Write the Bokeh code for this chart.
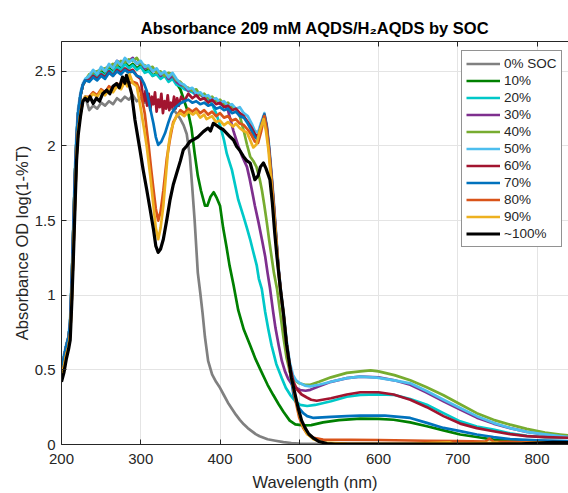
from bokeh.plotting import figure
from bokeh.models import (Legend, LegendItem, LinearAxis, FixedTicker, Range1d,
                          NumeralTickFormatter, CustomJSTickFormatter)
from bokeh.embed import file_html
from bokeh.resources import INLINE

# ---------------- data (wavelength nm, absorbance OD) ----------------
rise_upper = [(200,0.5),(203,0.58),(206,0.66),(209,0.72),(211,0.82),(213,1.1),(215,1.45),(217,1.8),(219,2.05),(221,2.22),(224,2.34),(227,2.41),(230,2.44)]
rise_lower = [(200,0.45),(203,0.52),(206,0.6),(209,0.66),(211,0.74),(213,0.98),(215,1.3),(217,1.62),(219,1.93),(221,2.1),(224,2.22),(227,2.3),(230,2.33)]
rise_black = [(200,0.42),(203,0.48),(206,0.57),(209,0.64),(211,0.7),(213,0.95),(215,1.25),(217,1.58),(219,1.9),(221,2.07),(224,2.2),(227,2.3),(230,2.32)]

soc0 = rise_lower + [(235,2.24),(240,2.27),(245,2.25),(250,2.29),(255,2.27),(260,2.3),(265,2.28),(270,2.32),(275,2.3),(280,2.33),(285,2.31),(290,2.34),(295,2.3),(300,2.32),(305,2.29),(310,2.31),(315,2.28),(320,2.3),(325,2.27),(330,2.29),(335,2.26),(340,2.25),(345,2.22),(350,2.18),(354,2.14),(358,2.08),(362,1.93),(365,1.72),(368,1.5),(372,1.15),(375,1.02),(378,0.88),(381,0.72),(385,0.56),(390,0.47),(395,0.42),(400,0.38),(405,0.33),(410,0.28),(415,0.24),(420,0.2),(425,0.165),(430,0.135),(435,0.11),(440,0.09),(445,0.07),(450,0.055),(455,0.045),(460,0.035),(470,0.025),(480,0.016),(490,0.01),(500,0.006),(550,0.004),(600,0.005),(650,0.004),(700,0.006),(750,0.005),(760,0.012),(770,0.005),(820,0.006),(830,0.014),(840,0.008)]

soc10 = rise_upper + [(235,2.46),(240,2.49),(245,2.47),(250,2.5),(255,2.48),(260,2.52),(265,2.5),(270,2.54),(275,2.52),(280,2.56),(285,2.53),(290,2.55),(295,2.52),(300,2.54),(305,2.5),(310,2.51),(315,2.47),(320,2.49),(325,2.46),(330,2.48),(335,2.44),(340,2.46),(345,2.42),(350,2.38),(355,2.3),(360,2.22),(364,2.12),(368,1.95),(372,1.8),(376,1.7),(381,1.6),(384,1.6),(388,1.66),(392,1.69),(396,1.65),(400,1.6),(404,1.45),(408,1.33),(412,1.2),(417,1.07),(423,0.9),(430,0.77),(438,0.665),(445,0.57),(452,0.49),(460,0.4),(467,0.333),(474,0.27),(480,0.22),(488,0.16),(495,0.135),(505,0.128),(515,0.13),(530,0.148),(550,0.163),(577,0.173),(600,0.172),(619,0.166),(640,0.148),(661,0.122),(682,0.095),(703,0.067),(724,0.05),(745,0.033),(787,0.016),(840,0.012)]

soc20 = rise_upper + [(235,2.45),(240,2.48),(245,2.46),(250,2.49),(255,2.47),(260,2.51),(265,2.49),(270,2.53),(275,2.51),(280,2.55),(285,2.52),(290,2.54),(295,2.51),(300,2.53),(305,2.49),(310,2.5),(315,2.47),(320,2.48),(325,2.45),(330,2.47),(335,2.43),(340,2.45),(345,2.41),(350,2.4),(355,2.38),(360,2.37),(365,2.36),(370,2.34),(375,2.35),(380,2.32),(385,2.31),(390,2.28),(395,2.22),(400,2.14),(405,2.04),(408.5,1.95),(412,1.89),(415,1.84),(419,1.74),(423,1.64),(429.5,1.53),(434,1.45),(438,1.375),(442,1.29),(446.4,1.198),(449,1.11),(452.7,1.043),(457,0.888),(461,0.77),(465,0.665),(471,0.54),(478,0.444),(483,0.38),(488.5,0.333),(495,0.29),(501,0.266),(510,0.258),(520,0.265),(540,0.29),(560,0.32),(577,0.333),(600,0.336),(619,0.333),(640,0.305),(661,0.266),(682,0.21),(703,0.155),(724,0.12),(745,0.1),(766,0.075),(787,0.058),(810,0.05),(840,0.045)]

soc30 = rise_upper + [(235,2.47),(240,2.5),(245,2.49),(250,2.52),(255,2.51),(260,2.54),(265,2.53),(270,2.57),(275,2.55),(280,2.58),(285,2.57),(290,2.59),(295,2.55),(300,2.56),(305,2.52),(310,2.53),(315,2.5),(320,2.51),(325,2.47),(330,2.49),(335,2.45),(340,2.47),(345,2.43),(350,2.41),(355,2.4),(360,2.37),(365,2.38),(370,2.34),(375,2.35),(380,2.32),(385,2.33),(390,2.3),(395,2.31),(400,2.28),(405,2.28),(410,2.24),(413,2.18),(417,2.1),(423,2.0),(428,1.93),(434,1.86),(437,1.79),(440,1.71),(444,1.6),(448.5,1.49),(453,1.37),(457,1.26),(460,1.15),(463,1.05),(467,0.89),(470,0.78),(474,0.665),(478,0.56),(482,0.49),(486,0.44),(491,0.4),(496,0.38),(501,0.365),(508,0.36),(514,0.366),(525,0.39),(540,0.42),(560,0.445),(577,0.455),(600,0.45),(620,0.43),(640,0.40),(660,0.35),(682,0.29),(703,0.235),(724,0.18),(745,0.14),(766,0.11),(787,0.085),(810,0.067),(840,0.05)]

soc40 = rise_upper + [(235,2.48),(240,2.49),(245,2.5),(250,2.51),(255,2.52),(260,2.53),(265,2.55),(270,2.54),(275,2.57),(280,2.56),(285,2.58),(290,2.57),(295,2.59),(300,2.55),(305,2.54),(310,2.52),(315,2.53),(320,2.49),(325,2.5),(330,2.47),(335,2.49),(340,2.48),(345,2.44),(350,2.43),(355,2.4),(360,2.39),(365,2.37),(370,2.38),(375,2.34),(380,2.35),(385,2.32),(390,2.33),(395,2.3),(400,2.31),(405,2.28),(410,2.29),(415,2.26),(420,2.25),(425,2.2),(430,2.1),(434,2.01),(438,1.93),(442,1.9),(446,1.86),(450,1.78),(453,1.7),(456,1.6),(459,1.49),(462,1.37),(465,1.26),(468,1.15),(472,1.04),(476,0.88),(480,0.72),(484,0.58),(488,0.49),(492,0.44),(500,0.41),(507,0.4),(514,0.40),(525,0.42),(540,0.45),(560,0.48),(577,0.49),(590,0.497),(600,0.49),(620,0.465),(640,0.43),(660,0.385),(682,0.33),(703,0.27),(724,0.21),(745,0.165),(766,0.133),(787,0.105),(810,0.08),(829,0.067),(840,0.06)]

soc50 = [(200,0.53),(203,0.6),(206,0.67),(209,0.73),(211,0.86),(213,1.15),(215,1.5),(217,1.85),(219,2.1),(221,2.25),(224,2.36),(227,2.42),(230,2.45),(235,2.47),(240,2.51),(245,2.48),(250,2.53),(255,2.5),(260,2.55),(265,2.52),(270,2.57),(275,2.54),(280,2.59),(285,2.56),(290,2.58),(295,2.55),(300,2.57),(305,2.53),(310,2.54),(315,2.5),(320,2.52),(325,2.48),(330,2.5),(335,2.46),(340,2.49),(345,2.45),(350,2.42),(355,2.41),(360,2.38),(365,2.39),(370,2.35),(375,2.36),(380,2.33),(385,2.34),(390,2.31),(395,2.32),(400,2.29),(405,2.3),(410,2.27),(415,2.28),(420,2.25),(425,2.26),(430,2.22),(435,2.2),(440,2.15),(444,2.1),(448,2.09),(452,2.16),(456,2.22),(459,2.14),(462,2.0),(465,1.82),(468,1.62),(471,1.4),(474,1.18),(477,1.02),(480,0.89),(484,0.7),(488,0.55),(492,0.466),(496,0.43),(501,0.41),(507,0.395),(514,0.389),(525,0.40),(540,0.42),(560,0.445),(577,0.455),(598,0.448),(620,0.43),(640,0.41),(660,0.36),(682,0.30),(703,0.245),(724,0.19),(745,0.145),(766,0.11),(787,0.085),(810,0.068),(829,0.056),(840,0.05)]

soc60 = rise_upper + [(235,2.44),(240,2.47),(245,2.45),(250,2.48),(255,2.46),(260,2.5),(265,2.47),(270,2.51),(275,2.49),(280,2.52),(285,2.5),(290,2.51),(295,2.47),(300,2.45),(302,2.36),(304,2.3),(306,2.37),(308,2.27),(310,2.35),(312,2.24),(314,2.33),(316,2.28),(318,2.36),(320,2.23),(322,2.31),(324,2.26),(326,2.35),(328,2.22),(330,2.3),(332,2.25),(334,2.34),(336,2.24),(338,2.29),(340,2.26),(342,2.33),(344,2.25),(346,2.32),(348,2.27),(351,2.33),(355,2.3),(360,2.35),(365,2.32),(370,2.34),(375,2.31),(380,2.32),(385,2.29),(390,2.31),(395,2.28),(400,2.29),(405,2.26),(410,2.27),(415,2.24),(420,2.25),(425,2.22),(430,2.2),(435,2.16),(440,2.12),(444,2.08),(448,2.06),(452,2.14),(456,2.21),(459,2.13),(462,1.98),(465,1.8),(468,1.6),(471,1.38),(474,1.17),(477,1.01),(480,0.88),(484,0.68),(488,0.53),(492.7,0.42),(497,0.37),(503,0.335),(509.6,0.315),(515,0.3),(522,0.293),(540,0.31),(560,0.335),(577,0.35),(600,0.35),(619,0.335),(640,0.30),(661,0.25),(682,0.19),(703,0.14),(724,0.11),(745,0.089),(766,0.07),(787,0.056),(810,0.05),(840,0.045)]

soc70 = rise_upper + [(235,2.43),(240,2.46),(245,2.44),(250,2.47),(255,2.45),(260,2.49),(265,2.47),(270,2.5),(275,2.48),(280,2.51),(285,2.49),(290,2.5),(295,2.47),(300,2.46),(304,2.42),(307.5,2.37),(312,2.25),(316,2.15),(319,2.06),(322,2.007),(326,2.03),(330.6,2.085),(335,2.16),(339,2.22),(344,2.26),(349.6,2.285),(355,2.3),(360,2.31),(365,2.29),(370,2.3),(375,2.28),(380,2.29),(385,2.27),(390,2.28),(395,2.25),(400,2.26),(405,2.24),(410,2.25),(415,2.22),(420,2.23),(425,2.2),(430,2.19),(435,2.15),(440,2.1),(444,2.06),(448,2.04),(452,2.13),(456,2.21),(459,2.12),(462,1.97),(465,1.79),(468,1.58),(471,1.37),(474,1.16),(477,1.0),(480,0.87),(484,0.67),(488,0.5),(492.7,0.333),(497,0.27),(501,0.235),(505,0.21),(510,0.19),(518,0.178),(540,0.185),(560,0.19),(577,0.193),(608,0.193),(640,0.178),(661,0.145),(682,0.111),(703,0.09),(724,0.067),(745,0.05),(766,0.036),(800,0.028),(840,0.022)]

soc80 = rise_lower + [(235,2.33),(240,2.36),(245,2.34),(250,2.38),(255,2.36),(260,2.4),(265,2.38),(270,2.42),(275,2.4),(280,2.44),(285,2.42),(290,2.43),(295,2.42),(300,2.36),(305,2.22),(310,2.0),(313,1.85),(316,1.71),(319,1.58),(322,1.5),(325,1.56),(328.5,1.7),(333,1.92),(337,2.05),(341,2.16),(345.4,2.2),(350,2.24),(355,2.22),(360,2.25),(365,2.23),(370,2.25),(375,2.22),(380,2.24),(385,2.21),(390,2.23),(395,2.2),(400,2.22),(405,2.19),(410,2.2),(415,2.17),(420,2.18),(425,2.15),(430,2.14),(435,2.11),(440,2.07),(444,2.03),(448,2.02),(452,2.1),(456,2.2),(459,2.11),(462,1.96),(465,1.78),(468,1.58),(471,1.37),(474,1.16),(477,1.0),(480,0.87),(484,0.66),(488,0.5),(491,0.42),(495,0.3),(500,0.18),(505,0.11),(510,0.07),(518,0.045),(530,0.033),(600,0.03),(660,0.025),(700,0.022),(735,0.02),(740,0.04),(745,0.02),(780,0.015),(840,0.012)]

soc90 = rise_lower + [(235,2.32),(240,2.35),(245,2.33),(250,2.37),(255,2.34),(260,2.38),(265,2.36),(270,2.4),(275,2.38),(280,2.43),(283,2.4),(286,2.48),(290,2.42),(295,2.4),(300,2.25),(304,2.12),(307.5,2.0),(312,1.8),(316,1.6),(319,1.45),(322,1.375),(325,1.45),(328.5,1.6),(332,1.82),(335,2.0),(338,2.1),(341,2.15),(345,2.2),(349.6,2.22),(355,2.2),(360,2.23),(366,2.21),(370,2.23),(375,2.19),(380,2.21),(383,2.18),(390,2.2),(395,2.16),(400,2.17),(405,2.14),(410,2.16),(416.5,2.13),(420,2.15),(425,2.12),(430,2.1),(434,2.09),(438,2.04),(442,1.99),(446,2.01),(450,2.1),(455,2.18),(458,2.1),(461,1.98),(464,1.8),(467,1.6),(470,1.42),(473,1.2),(476,1.04),(480,0.88),(484,0.67),(488,0.5),(491,0.42),(495,0.32),(500,0.2),(505,0.12),(510,0.07),(518,0.035),(530,0.012),(560,0.006),(640,0.005),(690,0.014),(695,0.005),(750,0.012),(755,0.005),(810,0.012),(815,0.005),(840,0.005)]

soc100 = rise_black + [(233,2.3),(236,2.33),(240,2.285),(244,2.32),(248,2.3),(252,2.35),(257,2.373),(261,2.35),(265,2.4),(269.6,2.418),(273,2.39),(277,2.462),(280,2.42),(282,2.473),(285,2.42),(288.5,2.351),(292.7,2.174),(299,1.974),(303,1.84),(307.5,1.708),(312,1.57),(316,1.442),(319,1.33),(322,1.287),(325,1.31),(328.5,1.375),(333,1.51),(337,1.641),(341,1.74),(345.4,1.819),(350,1.9),(353.7,1.974),(358,2.0),(362,2.03),(366,2.041),(372,2.06),(379,2.096),(385,2.12),(388,2.1),(391.6,2.152),(395,2.14),(400,2.12),(404,2.11),(408.5,2.085),(413,2.06),(417,2.04),(421,1.996),(425,1.97),(429.5,1.93),(434,1.9),(438,1.886),(441,1.83),(444,1.774),(448,1.8),(451,1.86),(454.8,1.886),(458,1.85),(463,1.774),(466,1.62),(469,1.42),(472,1.25),(476,1.05),(480,0.88),(484,0.67),(490,0.45),(495,0.33),(499,0.236),(503,0.16),(507.5,0.11),(512,0.07),(518,0.042),(525,0.02),(535,0.006),(545,0.002),(600,0.002),(700,0.003),(780,0.004),(800,0.01),(820,0.014),(840,0.012)]

series_labels = ["0% SOC", "10%", "20%", "30%", "40%", "50%", "60%", "70%", "80%", "90%", "~100%"]
series_data = [soc0, soc10, soc20, soc30, soc40, soc50, soc60, soc70, soc80, soc90, soc100]
series_colors = ["#808080", "#008000", "#00C8C8", "#7E2F8E", "#77AC30", "#4DBEEE", "#A2142F", "#0072BD", "#D95319", "#EDB120", "#000000"]

x_ticks = [200, 300, 400, 500, 600, 700, 800]
y_ticks = [0, 0.5, 1, 1.5, 2, 2.5]
title_text = "Absorbance 209 mM AQDS/H\u2082AQDS by SOC"

# ---------------- figure ----------------
FONT = "Liberation Sans"
AX = "#262626"

p = figure(width=568, height=493, x_range=Range1d(200, 839.7), y_range=Range1d(0, 2.7),
           output_backend="svg", toolbar_location=None,
           min_border_left=61, min_border_right=0, min_border_top=41, min_border_bottom=46)
p.outline_line_color = None
p.background_fill_color = "white"
p.border_fill_color = "white"

p.title.text = title_text
p.title.align = "center"
p.title.offset = 3
p.title.text_font = FONT
p.title.text_font_size = "16.5px"
p.title.text_font_style = "bold"
p.title.text_color = "black"

p.xaxis.ticker = FixedTicker(ticks=x_ticks)
p.yaxis.ticker = FixedTicker(ticks=y_ticks)
p.yaxis.formatter = NumeralTickFormatter(format="0.[0]")

for ax in (p.xaxis[0], p.yaxis[0]):
    ax.major_tick_in = 5
    ax.major_tick_out = 0
    ax.minor_tick_in = 0
    ax.minor_tick_out = 0
    ax.axis_line_color = AX
    ax.major_tick_line_color = AX
    ax.major_label_text_font = FONT
    ax.major_label_text_font_size = "15px"
    ax.major_label_text_color = AX
    ax.axis_label_text_font = FONT
    ax.axis_label_text_font_size = "16.5px"
    ax.axis_label_text_font_style = "normal"
    ax.axis_label_text_color = AX

p.xaxis.axis_label = "Wavelength (nm)"
p.yaxis.axis_label = "Absorbance OD log(1-%T)"
p.xaxis.major_label_standoff = 9
p.xaxis.axis_label_standoff = 6
p.yaxis.major_label_standoff = 6
p.yaxis.axis_label_standoff = 1

top = LinearAxis(ticker=FixedTicker(ticks=x_ticks), major_tick_in=5, major_tick_out=0,
                 minor_tick_in=0, minor_tick_out=0, axis_line_color=AX, major_tick_line_color=AX,
                 formatter=CustomJSTickFormatter(code="return ''"), major_label_standoff=0)
p.add_layout(top, "above")

p.xgrid.grid_line_color = "#e4e4e4"
p.ygrid.grid_line_color = "#e4e4e4"

renderers = []
for data, col in zip(series_data, series_colors):
    xs = [d[0] for d in data]
    ys = [d[1] for d in data]
    lw = 3.2 if col == "#000000" else 2.7
    r = p.line(xs, ys, line_color=col, line_width=lw, line_join="round")
    renderers.append(r)

legend = Legend(items=[LegendItem(label=l, renderers=[r]) for l, r in zip(series_labels, renderers)],
                location=(400, 197))
legend.glyph_width = 34
legend.glyph_height = 17
legend.label_height = 17
legend.spacing = 0
legend.padding = 4
legend.margin = 0
legend.label_standoff = 4
legend.label_text_font = FONT
legend.label_text_font_size = "13.5px"
legend.label_text_color = AX
legend.border_line_color = AX
legend.border_line_width = 1
legend.background_fill_color = "white"
legend.background_fill_alpha = 1
p.add_layout(legend)

open("out.html", "w").write(file_html(p, INLINE))
